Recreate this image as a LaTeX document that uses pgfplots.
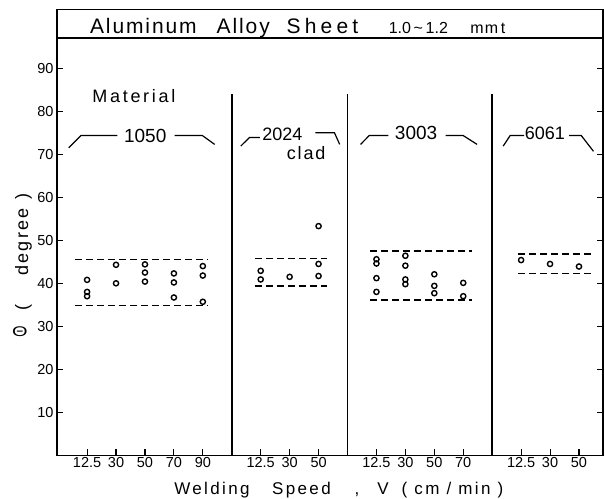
\documentclass[border=0pt]{standalone}
\usepackage{fontspec}
\setmainfont{Liberation Sans}
\usepackage{pgfplots}
\pgfplotsset{compat=1.18}
\tikzset{
  band/.style={line width=1.3pt, dash pattern=on 7pt off 4pt},
  pts/.style={only marks, mark=o, mark size=2.6pt, line width=1.4pt, black},
  brk/.style={line width=1.2pt, black},
  xl/.style={anchor=base, font=\fontsize{17}{17}\selectfont\addfontfeatures{LetterSpace=14}},
}
\begin{document}
\begin{tikzpicture}
\useasboundingbox (-57pt,-42.7pt) rectangle (548pt,455.3pt);
\begin{axis}[
  at={(0pt,0pt)}, anchor=south west,
  scale only axis, width=546pt, height=417.1pt,
  xmin=-0.04, xmax=18.83, ymin=0, ymax=97,
  clip=false,
  axis line style={line width=1.6pt},
  xtick={1,2,3,4,5,7,8,9,11,12,13,14,16,17,18},
  xticklabels={12.5,30,50,70,90,12.5,30,50,12.5,30,50,70,12.5,30,50},
  ytick={10,20,...,90},
  xtick pos=left, ytick pos=both,
  tick align=inside, major tick length=6pt,
  tick style={line width=1.1pt, black},
  ticklabel style={font=\fontsize{14.5}{14.5}\selectfont},
  xticklabel style={yshift=1pt},
  /pgf/number format/assume math mode=true,
]
% title box
\draw[line width=1.6pt] (axis cs:-0.04,97) rectangle (axis cs:18.83,103.67);
\node[anchor=base, font=\fontsize{21}{21}\selectfont\addfontfeatures{LetterSpace=9}] at (axis cs:2.945,98.1) {Aluminum};
\node[anchor=base, font=\fontsize{21}{21}\selectfont\addfontfeatures{LetterSpace=9}] at (axis cs:6.397,98.1) {Alloy};
\node[anchor=base, font=\fontsize{21}{21}\selectfont\addfontfeatures{LetterSpace=20}] at (axis cs:9.134,98.1) {Sheet};
\node[anchor=base, font=\fontsize{16}{16}\selectfont] at (axis cs:12.45,98.1) {1.0\,\textasciitilde\,1.2};
\node[anchor=base, font=\fontsize{16}{16}\selectfont\addfontfeatures{LetterSpace=8}] at (axis cs:14.85,98.1) {mm\,t};

% dividers
\addplot[line width=1.5pt] coordinates {(6,0) (6,84)};
\addplot[line width=1.5pt] coordinates {(10,0) (10,84)};
\addplot[line width=1.5pt] coordinates {(15,0) (15,84)};

% band limits
\addplot[band] coordinates {(0.58,45.6) (5.19,45.6)};
\addplot[band] coordinates {(0.58,34.8) (5.19,34.8)};
\addplot[band] coordinates {(6.8,45.8) (9.28,45.8)};
\addplot[band] coordinates {(6.8,39.4) (9.28,39.4)};
\addplot[band] coordinates {(10.78,47.5) (14.29,47.5)};
\addplot[band] coordinates {(10.78,36.1) (14.29,36.1)};
\addplot[band] coordinates {(15.9,46.8) (18.44,46.8)};
\addplot[band] coordinates {(15.9,42.3) (18.44,42.3)};

% measured points
\addplot[pts] coordinates {(1,40.8)(1,38.0)(1,37.0)(2,44.3)(2,40.0)(3,44.4)(3,42.5)(3,40.4)(4,42.3)(4,40.2)(4,36.7)(5,44.0)(5,41.8)(5,35.7)};
\addplot[pts] coordinates {(7,42.9)(7,40.9)(8,41.5)(9,53.3)(9,44.5)(9,41.7)};
\addplot[pts] coordinates {(11,45.6)(11,44.6)(11,41.2)(11,38.0)(12,46.4)(12,44.1)(12,40.9)(12,39.8)(13,42.1)(13,39.4)(13,37.7)(14,40.1)(14,37.0)};
\addplot[pts] coordinates {(16,45.4)(17,44.5)(18,43.9)};

% material brackets
\addplot[brk] coordinates {(0.364,71.5) (0.786,74.35) (2.047,74.35)};
\addplot[brk] coordinates {(4.027,74.35) (4.987,74.35) (5.409,72.3)};
\addplot[brk] coordinates {(6.31,71.9) (6.61,73.9) (6.97,73.9)};
\addplot[brk] coordinates {(8.89,75.0) (9.55,75.0) (9.73,72.3)};
\addplot[brk] coordinates {(10.45,72.3) (10.75,74.35) (11.41,74.35)};
\addplot[brk] coordinates {(13.39,74.35) (14.0,74.35) (14.48,72.3)};
\addplot[brk] coordinates {(15.38,71.9) (15.62,74.35) (16.1,74.35)};
\addplot[brk] coordinates {(17.66,74.35) (18.08,74.35) (18.5,70.7)};

\node[font=\fontsize{18}{18}\selectfont\addfontfeatures{LetterSpace=15}] at (axis cs:2.617,83.65) {Material};
\node[anchor=base, font=\fontsize{19}{19}\selectfont] at (axis cs:3.008,72.7) {1050};
\node[anchor=base, font=\fontsize{18}{18}\selectfont] at (axis cs:7.75,73.1) {2024};
\node[anchor=base, font=\fontsize{18}{18}\selectfont\addfontfeatures{LetterSpace=10}] at (axis cs:8.57,68.7) {clad};
\node[anchor=base, font=\fontsize{19}{19}\selectfont] at (axis cs:12.37,73.5) {3003};
\node[anchor=base, font=\fontsize{18}{18}\selectfont] at (axis cs:16.82,73.4) {6061};

% x label
\node[xl] at (axis cs:5.316,-9.07) {Welding};
\node[xl] at (axis cs:8.408,-9.07) {Speed};
\node[xl] at (axis cs:10.326,-9.07) {,};
\node[xl] at (axis cs:11.23,-9.07) {V};
\node[xl] at (axis cs:13.63,-9.07) {( cm / min )};

% y label
\node[font=\fontsize{20}{20}\selectfont, yscale=0.7] at (axis cs:-1.319,28.7) {Θ};
\node[rotate=90, anchor=base, font=\fontsize{18}{18}\selectfont] at (axis cs:-1.042,34.3) {(};
\node[rotate=90, anchor=base, font=\fontsize{18}{18}\selectfont\addfontfeatures{LetterSpace=12}] at (axis cs:-1.042,49.6) {degree};
\node[rotate=90, anchor=base, font=\fontsize{18}{18}\selectfont] at (axis cs:-1.042,60.3) {)};
\end{axis}
\end{tikzpicture}
\end{document}
